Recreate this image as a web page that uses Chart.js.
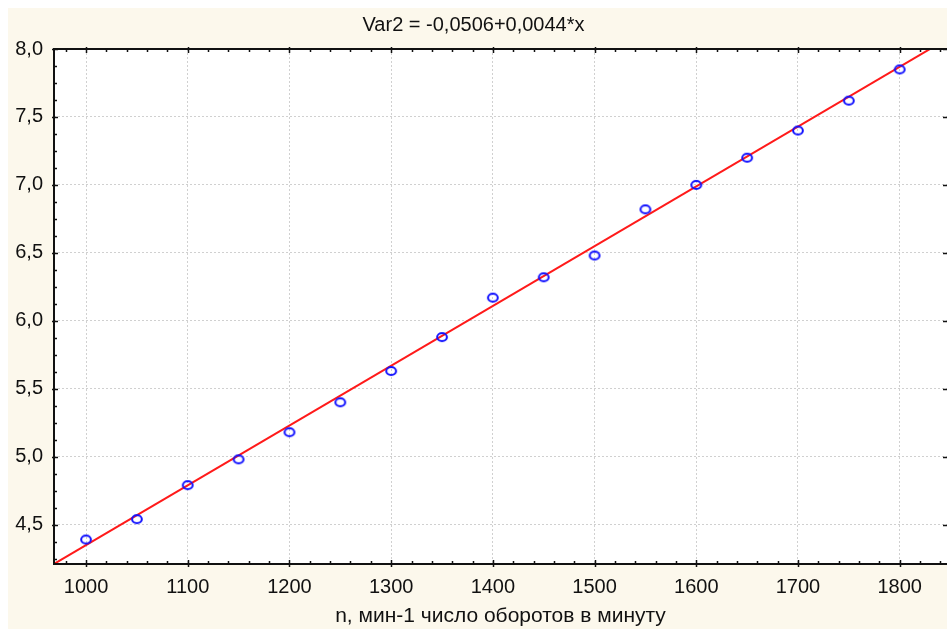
<!DOCTYPE html>
<html>
<head>
<meta charset="utf-8">
<script src="https://cdn.jsdelivr.net/npm/chart.js@4/dist/chart.umd.min.js"></script>
<style>
  html, body { margin: 0; padding: 0; background: #ffffff; }
  #wrap { width: 947px; height: 629px; }
</style>
</head>
<body>
<div id="wrap"><canvas id="fitChart" width="947" height="629"></canvas></div>
<script>
// data
const rpm = [1000, 1050, 1100, 1150, 1200, 1250, 1300, 1350, 1400, 1450, 1500, 1550, 1600, 1650, 1700, 1750, 1800];
const var2 = [4.39, 4.54, 4.79, 4.98, 5.18, 5.40, 5.63, 5.88, 6.17, 6.32, 6.48, 6.82, 7.00, 7.20, 7.40, 7.62, 7.85];

// regression line end points (Var2 = -0,0506+0,0044*x)
const fitX = [960, 1850];
const fitY = [4.173, 8.089];

// axis ticks
const xTicks = [1000, 1100, 1200, 1300, 1400, 1500, 1600, 1700, 1800];
const yTicks = [4.5, 5.0, 5.5, 6.0, 6.5, 7.0, 7.5, 8.0];
const xMinorStep = 20;
const yMinorStep = 0.125;

const titleText = "Var2 = -0,0506+0,0044*x";
const xTitle = "n, мин-1 число оборотов в минуту";

const FONT = "'Liberation Sans', Arial, sans-serif";
const CREAM = "#fcf8ec";

// slightly flattened open circle, like the original marker
const marker = document.createElement("canvas");
marker.width = 14;
marker.height = 12;
(function () {
    const m = marker.getContext("2d");
    m.strokeStyle = "#1010ff";
    m.lineWidth = 2;
    m.beginPath();
    m.ellipse(7, 6, 4.9, 4.0, 0, 0, Math.PI * 2);
    m.stroke();
})();

// background: white border, cream panel, white plot area running to the right edge
const backdrop = {
    id: "backdrop",
    beforeDraw(chart) {
        const { ctx, chartArea } = chart;
        ctx.save();
        ctx.fillStyle = "#ffffff";
        ctx.fillRect(0, 0, chart.width, chart.height);
        ctx.fillStyle = CREAM;
        ctx.fillRect(8, 8, chart.width - 8, chart.height - 8);
        ctx.fillStyle = "#ffffff";
        ctx.fillRect(chartArea.left, chartArea.top, chart.width - chartArea.left, chartArea.bottom - chartArea.top);
        ctx.restore();
    }
};

// frame (left, top, bottom; the right side is cut off) and tick marks
const frame = {
    id: "frame",
    afterDatasetsDraw(chart) {
        const { ctx, chartArea, scales } = chart;
        const { left, right, top, bottom } = chartArea;
        const edge = chart.width;
        ctx.save();
        ctx.strokeStyle = "#111111";
        ctx.lineWidth = 2;
        ctx.beginPath();
        ctx.moveTo(edge, top); ctx.lineTo(left, top); ctx.lineTo(left, bottom); ctx.lineTo(edge, bottom);
        ctx.stroke();

        ctx.lineWidth = 1.5;
        ctx.beginPath();
        // x ticks, bottom and top
        for (let v = Math.ceil(scales.x.min / xMinorStep) * xMinorStep; v <= scales.x.max; v += xMinorStep) {
            const px = Math.round(scales.x.getPixelForValue(v)) + 0.5;
            const major = xTicks.includes(v);
            const len = major ? 4 : 3;
            ctx.moveTo(px, bottom - len); ctx.lineTo(px, bottom + (major ? 3 : 1));
            ctx.moveTo(px, top + len); ctx.lineTo(px, top - (major ? 2 : 1));
        }
        // y ticks, left side
        const nY = Math.round((scales.y.max - 4.25) / yMinorStep);
        for (let i = 0; i <= nY; i++) {
            const v = 4.25 + i * yMinorStep;
            const py = Math.round(scales.y.getPixelForValue(v)) + 0.5;
            const major = yTicks.some(t => Math.abs(t - v) < 1e-6);
            const len = major ? 4 : 3;
            ctx.moveTo(left + len, py); ctx.lineTo(left - (major ? 2 : 1), py);
        }
        // right side: only major stubs show at the edge
        yTicks.forEach(v => {
            const py = Math.round(scales.y.getPixelForValue(v)) + 0.5;
            ctx.moveTo(edge - 4, py); ctx.lineTo(edge, py);
        });
        ctx.stroke();
        ctx.restore();
    }
};

const ctx = document.getElementById("fitChart").getContext("2d");
const chart = new Chart(ctx, {
    type: "scatter",
    data: {
        datasets: [
            {
                type: "line",
                label: "fit",
                data: fitX.map((x, i) => ({ x: x, y: fitY[i] })),
                borderColor: "#ff1a1a",
                borderWidth: 2,
                pointRadius: 0,
                fill: false,
                order: 2
            },
            {
                label: "Var2",
                data: rpm.map((x, i) => ({ x: x, y: var2[i] })),
                showLine: false,
                pointStyle: marker,
                pointRadius: 5,
                order: 1
            }
        ]
    },
    options: {
        responsive: false,
        animation: false,
        events: [],
        layout: { autoPadding: false, padding: { left: 0, right: 0, top: 0, bottom: 0 } },
        plugins: {
            legend: { display: false },
            tooltip: { enabled: false },
            title: {
                display: true,
                text: titleText,
                color: "#111111",
                font: { family: FONT, size: 20, weight: "normal" },
                padding: { top: 13, bottom: 12 }
            }
        },
        scales: {
            x: {
                type: "linear",
                min: 968.5,
                max: 1846.5,
                afterBuildTicks: scale => { scale.ticks = xTicks.map(v => ({ value: v })); },
                afterFit: scale => { scale.height = 65; },
                border: { display: false, dash: [2, 2] },
                grid: { color: "#d0d0d0", lineWidth: 1, drawTicks: false },
                ticks: {
                    color: "#111111",
                    font: { family: FONT, size: 20 },
                    padding: 11,
                    maxRotation: 0,
                    autoSkip: false,
                    callback: v => String(v)
                },
                title: {
                    display: true,
                    text: xTitle,
                    color: "#111111",
                    font: { family: FONT, size: 21 },
                    padding: { top: 9, bottom: 0 }
                }
            },
            y: {
                type: "linear",
                min: 4.21,
                max: 8.0,
                afterBuildTicks: scale => { scale.ticks = yTicks.map(v => ({ value: v })); },
                afterFit: scale => { scale.width = 54; },
                border: { display: false, dash: [2, 2] },
                grid: { color: "#d0d0d0", lineWidth: 1, drawTicks: false },
                ticks: {
                    color: "#111111",
                    font: { family: FONT, size: 20 },
                    padding: 11,
                    autoSkip: false,
                    callback: v => v.toFixed(1).replace(".", ",")
                }
            }
        }
    },
    plugins: [backdrop, frame]
});
</script>
</body>
</html>
